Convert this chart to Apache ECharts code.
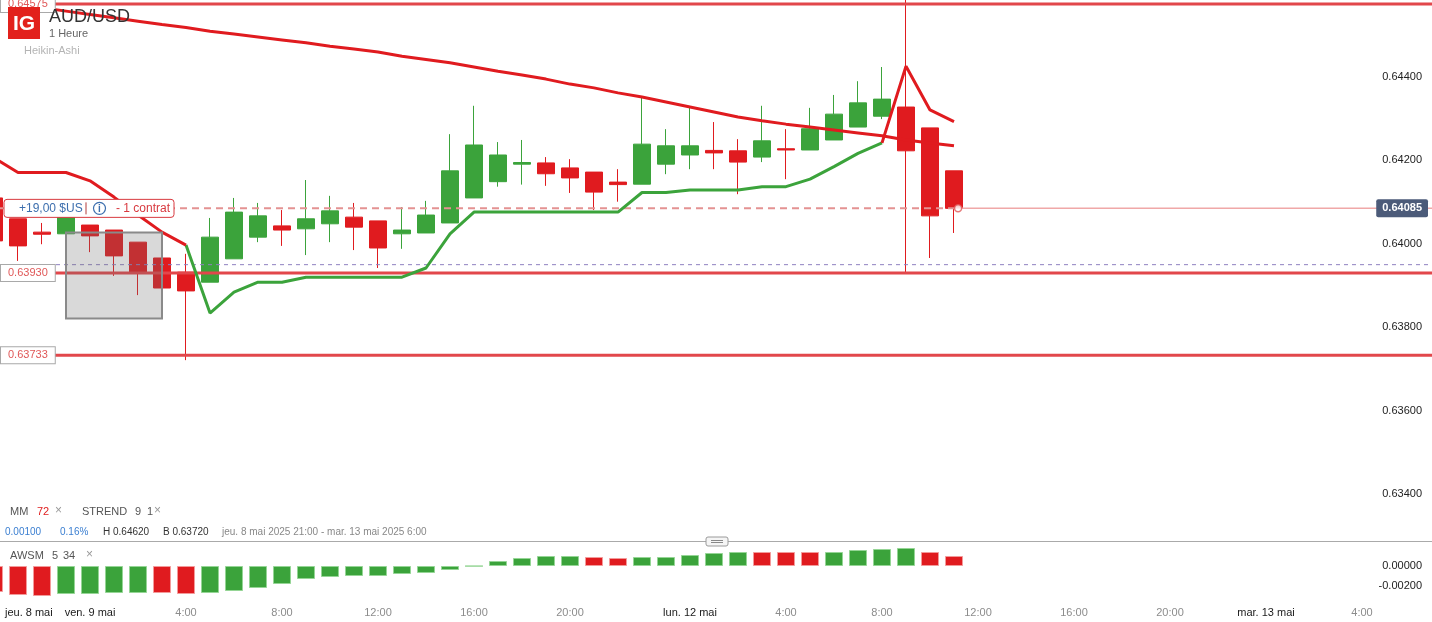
<!DOCTYPE html>
<html>
<head>
<meta charset="utf-8">
<title>AUD/USD 1 Heure</title>
<script src="https://cdn.jsdelivr.net/npm/echarts@6.0.0/dist/echarts.min.js"></script>
<style>
  html, body { margin: 0; padding: 0; background: #fff; }
  #chart { width: 1432px; height: 622px; }
</style>
</head>
<body>
<div id="chart"></div>
<script>
// hourly slots; slot 0 = jeu. 8 mai 21:00, the first entry (-1) is the bar cut by the left edge
const firstIdx = -1;

// Heikin-Ashi candles: [open, close, low, high]
const candles = [
  [0.64110, 0.64007, 0.63990, 0.64130],
  [0.64060, 0.63995, 0.63959, 0.64060],
  [0.64028, 0.64023, 0.63999, 0.64050],
  [0.64024, 0.64075, 0.64024, 0.64090],
  [0.64045, 0.64019, 0.63980, 0.64045],
  [0.64033, 0.63971, 0.63923, 0.64033],
  [0.64004, 0.63930, 0.63877, 0.64004],
  [0.63966, 0.63894, 0.63894, 0.63966],
  [0.63932, 0.63887, 0.63721, 0.63976],
  [0.63908, 0.64016, 0.63908, 0.64062],
  [0.63964, 0.64076, 0.63964, 0.64110],
  [0.64016, 0.64067, 0.64004, 0.64098],
  [0.64043, 0.64033, 0.63995, 0.64081],
  [0.64036, 0.64060, 0.63973, 0.64153],
  [0.64048, 0.64079, 0.64004, 0.64115],
  [0.64064, 0.64040, 0.63985, 0.64098],
  [0.64055, 0.63990, 0.63942, 0.64055],
  [0.64024, 0.64033, 0.63988, 0.64088],
  [0.64026, 0.64069, 0.64026, 0.64103],
  [0.64050, 0.64175, 0.64050, 0.64263],
  [0.64110, 0.64237, 0.64110, 0.64331],
  [0.64149, 0.64213, 0.64137, 0.64244],
  [0.64191, 0.64195, 0.64142, 0.64249],
  [0.64194, 0.64168, 0.64139, 0.64208],
  [0.64182, 0.64158, 0.64122, 0.64203],
  [0.64172, 0.64124, 0.64081, 0.64172],
  [0.64148, 0.64142, 0.64101, 0.64179],
  [0.64143, 0.64239, 0.64143, 0.64352],
  [0.64191, 0.64235, 0.64167, 0.64275],
  [0.64213, 0.64235, 0.64179, 0.64326],
  [0.64224, 0.64218, 0.64179, 0.64292],
  [0.64223, 0.64196, 0.64119, 0.64251],
  [0.64208, 0.64247, 0.64196, 0.64331],
  [0.64228, 0.64225, 0.64155, 0.64275],
  [0.64225, 0.64276, 0.64225, 0.64326],
  [0.64249, 0.64311, 0.64249, 0.64357],
  [0.64280, 0.64338, 0.64280, 0.64390],
  [0.64306, 0.64347, 0.64299, 0.64424],
  [0.64328, 0.64223, 0.63928, 0.64620],
  [0.64278, 0.64067, 0.63966, 0.64278],
  [0.64175, 0.64085, 0.64026, 0.64175]
];

// MM 72
const ma72 = [
  0.64581, 0.64574, 0.64566, 0.64558, 0.64550, 0.64542, 0.64534, 0.64526, 0.64519,
  0.64510, 0.64503, 0.64496, 0.64489, 0.64482, 0.64474, 0.64467, 0.64460, 0.64450,
  0.64442, 0.64434, 0.64424, 0.64414, 0.64405, 0.64395, 0.64383, 0.64374, 0.64362,
  0.64352, 0.64340, 0.64328, 0.64316, 0.64304, 0.64295, 0.64287, 0.64280, 0.64273,
  0.64266, 0.64259, 0.64249, 0.64242, 0.64235
];

// STREND 9 1, with trend direction per bar (d = down/red, u = up/green)
const strend = [
  0.64206, 0.64171, 0.64171, 0.64171, 0.64151, 0.64112, 0.64069, 0.64028, 0.63997,
  0.63834, 0.63884, 0.63908, 0.63908, 0.63920, 0.63920, 0.63920, 0.63920, 0.63920,
  0.63942, 0.64024, 0.64076, 0.64076, 0.64076, 0.64076, 0.64076, 0.64076, 0.64076,
  0.64123, 0.64123, 0.64129, 0.64129, 0.64129, 0.64137, 0.64137, 0.64155, 0.64185,
  0.64217, 0.64242, 0.64426, 0.64321, 0.64293
];
const strendDir = 'ddddddddd' + 'uuuuuuuuuuuuuuuuuuuuuuuuuuuuu' + 'ddd';

// AWSM 5 34 histogram, with bar colour (g / r)
const awsm = [
  -0.0026, -0.0029, -0.0030, -0.0028, -0.0028, -0.0027, -0.0027, -0.0027, -0.0028,
  -0.0027, -0.0025, -0.0022, -0.0018, -0.0013, -0.0011, -0.0010, -0.0010, -0.0008,
  -0.0007, -0.0004, -0.00002, 0.0005, 0.0008, 0.0010, 0.0010, 0.0009, 0.0008,
  0.0009, 0.0009, 0.0011, 0.0013, 0.0014, 0.0014, 0.0014, 0.0014, 0.0014,
  0.0016, 0.0017, 0.0018, 0.0014, 0.0010
];
const awsmDir = 'rrrggggrrggggggggggggggggrrgggggrrrggggrr';

// axis ticks
const xTickIdx = [0.45, 3, 7, 11, 15, 19, 23, 28, 32, 36, 40, 44, 48, 52, 56];
const xTickLabels = ['jeu. 8 mai', 'ven. 9 mai', '4:00', '8:00', '12:00', '16:00', '20:00',
  'lun. 12 mai', '4:00', '8:00', '12:00', '16:00', '20:00', 'mar. 13 mai', '4:00'];
const priceTicks = [0.634, 0.636, 0.638, 0.640, 0.642, 0.644];
const awsmTicks = [0, -0.002];

// price levels
const levelLines = [0.64575, 0.63930, 0.63733];
const midLine = 0.63950;
const lastPrice = 0.64085;
const lastIdx = 39;
const boxFrom = [2, 0.64027];
const boxTo = [6, 0.63821];

const GREEN = '#3ba33b';
const RED = '#e01b1f';
const FONT = '"Liberation Sans", Arial, sans-serif';

// view window (pixel layout: slot 0 centred at x=18, 24px per slot)
const xMin = -0.75, xMax = 58.9167;
const pMin = 0.632873, pMax = 0.645847;

const chart = echarts.init(document.getElementById('chart'));

const idx = k => k + firstIdx;
const candleData = candles.map((c, k) => [idx(k)].concat(c));
const lineData = arr => arr.map((v, k) => [idx(k), v]);
const stPart = dir => strend.map((v, k) =>
  [idx(k), (strendDir[k] === dir || strendDir[k + 1] === dir) ? v : '-']);
const awsmData = awsm.map((v, k) => ({
  value: [idx(k), v],
  itemStyle: awsmDir[k] === 'g'
    ? { color: GREEN, borderColor: '#95d595' }
    : { color: RED, borderColor: '#f39a9a' }
}));

// horizontal level drawn as a plain two-point line series
const hLine = (name, v, from, to, lineStyle, z) => ({
  name, type: 'line', xAxisIndex: 0, yAxisIndex: 0, silent: true,
  data: [[from, v], [to, v]], symbol: 'none', z: z || 3, lineStyle
});

const option = {
  animation: false,
  backgroundColor: '#fff',
  textStyle: { fontFamily: FONT },
  grid: [
    { left: 0, right: 0, top: 0, height: 541, outerBoundsMode: 'none' },
    { left: 0, right: 0, top: 542, height: 58, outerBoundsMode: 'none' }
  ],
  xAxis: [
    { type: 'value', gridIndex: 0, min: xMin, max: xMax, show: false },
    {
      type: 'value', gridIndex: 1, min: xMin, max: xMax,
      axisLine: { show: false }, axisTick: { show: false }, splitLine: { show: false },
      axisLabel: {
        customValues: xTickIdx,
        margin: 7,
        formatter: v => {
          const i = xTickIdx.indexOf(v);
          if (i < 0) return '';
          const t = xTickLabels[i];
          return t.indexOf(':') > 0 ? '{h|' + t + '}' : '{d|' + t + '}';
        },
        rich: {
          d: { color: '#1a1a1a', fontSize: 11, fontFamily: FONT },
          h: { color: '#8c8c8c', fontSize: 11, fontFamily: FONT }
        }
      }
    }
  ],
  yAxis: [
    {
      type: 'value', gridIndex: 0, position: 'right', min: pMin, max: pMax, z: 10,
      axisLine: { show: false }, axisTick: { show: false }, splitLine: { show: false },
      axisLabel: {
        inside: true, margin: 10, customValues: priceTicks,
        formatter: v => v.toFixed(5), color: '#222', fontSize: 11
      }
    },
    {
      type: 'value', gridIndex: 0, position: 'left', min: pMin, max: pMax, z: 10,
      axisLine: { show: false }, axisTick: { show: false }, splitLine: { show: false },
      axisLabel: {
        inside: true, margin: 1, customValues: levelLines,
        formatter: v => v.toFixed(5), color: '#e05858', fontSize: 11,
        backgroundColor: '#fff', borderColor: '#a9a9a9', borderWidth: 1, padding: [3, 7, 2, 7]
      }
    },
    {
      type: 'value', gridIndex: 0, position: 'right', min: pMin, max: pMax, z: 11,
      axisLine: { show: false }, axisTick: { show: false }, splitLine: { show: false },
      axisLabel: {
        inside: true, margin: 4, customValues: [lastPrice],
        formatter: v => v.toFixed(5), color: '#fff', fontSize: 11, fontWeight: 'bold',
        backgroundColor: '#4c5b79', borderRadius: 2, padding: [4, 6, 3, 6]
      }
    },
    {
      type: 'value', gridIndex: 1, position: 'right', min: -0.0034, max: 0.0024, z: 10,
      axisLine: { show: false }, axisTick: { show: false }, splitLine: { show: false },
      axisLabel: {
        inside: true, margin: 10, customValues: awsmTicks,
        formatter: v => v.toFixed(5), color: '#222', fontSize: 11
      }
    }
  ],
  series: [
    {
      name: 'AUD/USD', type: 'candlestick', xAxisIndex: 0, yAxisIndex: 0,
      data: candleData, encode: { x: 0, y: [1, 2, 3, 4] },
      barWidth: 18, z: 2,
      itemStyle: { color: GREEN, color0: RED, borderColor: GREEN, borderColor0: RED, borderWidth: 1 }
    },
    ...levelLines.map(v => hLine('niveau ' + v, v, xMin, xMax, { color: '#e2474b', width: 3 })),
    hLine('milieu', midLine, xMin, xMax, { color: '#8f80c0', width: 1, type: [4, 4] }),
    hLine('position', lastPrice, xMin, lastIdx, { color: '#e49292', width: 2, type: [7, 5] }),
    hLine('prix', lastPrice, lastIdx, xMax, { color: '#f0a8a8', width: 1.5 }),
    {
      name: 'zone', type: 'line', xAxisIndex: 0, yAxisIndex: 0, data: [], z: 3, silent: true,
      markArea: {
        silent: true, z: 5,
        itemStyle: { color: 'rgba(110,110,110,0.26)', borderColor: '#8a8a8a', borderWidth: 2 },
        data: [[{ coord: boxFrom }, { coord: boxTo }]]
      }
    },
    {
      name: 'MM 72', type: 'line', xAxisIndex: 0, yAxisIndex: 0, data: lineData(ma72),
      symbol: 'none', z: 4, lineStyle: { color: RED, width: 3 }
    },
    {
      name: 'STREND up', type: 'line', xAxisIndex: 0, yAxisIndex: 0, data: stPart('u'),
      symbol: 'none', z: 4, lineStyle: { color: GREEN, width: 3 }
    },
    {
      name: 'STREND down', type: 'line', xAxisIndex: 0, yAxisIndex: 0, data: stPart('d'),
      symbol: 'none', z: 4, lineStyle: { color: RED, width: 3 }
    },
    {
      name: 'dernier', type: 'scatter', xAxisIndex: 0, yAxisIndex: 0,
      data: [[lastIdx + 0.17, lastPrice]], symbolSize: 7, z: 6, silent: true,
      itemStyle: { color: '#fff', borderColor: '#e05858', borderWidth: 1.5 }
    },
    {
      name: 'AWSM 5 34', type: 'bar', xAxisIndex: 1, yAxisIndex: 3, data: awsmData,
      barWidth: 18, itemStyle: { borderWidth: 1 }
    }
  ]
};

chart.setOption(option);

// overlay texts (header, legends, position tag)
const posY = chart.convertToPixel({ yAxisIndex: 0 }, lastPrice);
const txt = (text, x, y, fill, size, extra, z) => ({
  type: 'text', x, y, z: z || 100, silent: true,
  style: Object.assign({ text, fill, fontSize: size, fontFamily: FONT, verticalAlign: 'middle' }, extra || {})
});

chart.setOption({
  graphic: [
    { type: 'rect', x: 8, y: 7, z: 100, shape: { width: 32, height: 32 }, style: { fill: '#e2211c' } },
    txt('IG', 24, 24, '#fff', 21, { fontWeight: 'bold', align: 'center' }, 101),
    txt('AUD/USD', 49, 17, '#333', 18),
    txt('1 Heure', 49, 34, '#666', 11),
    txt('Heikin-Ashi', 24, 51, '#b4b4b4', 11),

    { type: 'rect', z: 100, shape: { x: 4, y: posY - 9, width: 170, height: 18, r: 3 },
      style: { fill: '#fff', stroke: '#d8393f', lineWidth: 1 } },
    txt('+19,00 $US', 19, posY, '#3d6fae', 12, null, 101),
    { type: 'line', z: 101, shape: { x1: 86, y1: posY - 6, x2: 86, y2: posY + 6 }, style: { stroke: '#b33a3a', lineWidth: 1 } },
    { type: 'circle', z: 101, shape: { cx: 99.5, cy: posY, r: 6 }, style: { fill: '#fff', stroke: '#3d6fae', lineWidth: 1.2 } },
    txt('i', 99.5, posY + 0.5, '#3d6fae', 10, { fontWeight: 'bold', align: 'center' }, 102),
    txt('- 1 contrat', 116, posY, '#d8393f', 12, null, 101),

    txt('MM', 10, 512, '#555', 11),
    txt('72', 37, 512, '#e02020', 11),
    txt('\u00d7', 55, 511, '#999', 12),
    txt('STREND', 82, 512, '#555', 11),
    txt('9', 135, 512, '#555', 11),
    txt('1', 147, 512, '#555', 11),
    txt('\u00d7', 154, 511, '#999', 12),

    txt('0.00100', 5, 532, '#3b7fd1', 10),
    txt('0.16%', 60, 532, '#3b7fd1', 10),
    txt('H 0.64620', 103, 532, '#333', 10),
    txt('B 0.63720', 163, 532, '#333', 10),
    txt('jeu. 8 mai 2025 21:00 - mar. 13 mai 2025 6:00', 222, 532, '#888', 10),

    { type: 'line', z: 100, shape: { x1: 0, y1: 541.5, x2: 1432, y2: 541.5 }, style: { stroke: '#aaa', lineWidth: 1 } },
    { type: 'rect', z: 101, shape: { x: 706, y: 537, width: 22, height: 9, r: 2 }, style: { fill: '#f5f5f5', stroke: '#9a9a9a', lineWidth: 1 } },
    { type: 'line', z: 102, shape: { x1: 711, y1: 540.5, x2: 723, y2: 540.5 }, style: { stroke: '#888', lineWidth: 1 } },
    { type: 'line', z: 102, shape: { x1: 711, y1: 542.5, x2: 723, y2: 542.5 }, style: { stroke: '#888', lineWidth: 1 } },

    txt('AWSM', 10, 556, '#555', 11),
    txt('5', 52, 556, '#555', 11),
    txt('34', 63, 556, '#555', 11),
    txt('\u00d7', 86, 555, '#999', 12)
  ]
});

window.addEventListener('resize', () => chart.resize());
</script>
</body>
</html>
